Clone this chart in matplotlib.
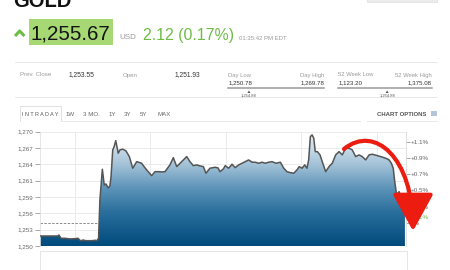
import numpy as np
import matplotlib.pyplot as plt
from matplotlib.colors import LinearSegmentedColormap
from matplotlib.patches import Rectangle, Polygon, FancyArrowPatch
from matplotlib.lines import Line2D
from matplotlib.path import Path

plt.rcParams['font.family'] = ['Liberation Sans', 'DejaVu Sans']

# ---- data (intraday gold price, hours counted from midnight of previous day)
hours = [18.13, 19.10, 19.15, 19.26, 19.47, 19.74, 20.00, 20.16, 20.30, 20.42,
         20.58, 20.90, 21.06, 21.18, 21.25, 21.32, 21.45, 21.55, 21.64, 21.76,
         21.85, 21.91, 22.00, 22.07, 22.16, 22.29, 22.38, 22.53, 22.70, 22.88,
         23.06, 23.27, 23.53, 23.66, 23.80, 24.06, 24.24, 24.41, 24.59, 24.77,
         25.03, 25.21, 25.39, 25.65, 25.92, 26.09, 26.27, 26.45, 26.62, 26.80,
         26.94, 27.15, 27.42, 27.58, 27.68, 27.86, 27.96, 28.14, 28.32, 28.49,
         28.67, 28.85, 29.02, 29.20, 29.38, 29.55, 29.73, 29.91, 30.08, 30.26,
         30.44, 30.65, 30.88, 31.06, 31.23, 31.41, 31.59, 31.76, 31.88, 32.03,
         32.17, 32.29, 32.38, 32.47, 32.56, 32.65, 32.73, 32.84, 32.98, 33.10,
         33.28, 33.46, 33.63, 33.81, 33.99, 34.16, 34.34, 34.52, 34.69, 34.87,
         35.05, 35.22, 35.40, 35.58, 35.75, 36.02, 36.20, 36.46, 36.64, 36.76,
         36.86, 36.94, 37.04, 37.17, 37.29, 37.39, 37.48]
prices = [1251.75, 1251.75, 1251.93, 1251.35, 1251.35, 1251.23, 1251.28, 1251.35, 1250.88, 1251.05,
          1250.93, 1250.93, 1251.00, 1250.96, 1251.40, 1258.06, 1263.43, 1260.68, 1260.86, 1260.16,
          1260.51, 1262.14, 1266.81, 1267.34, 1268.44, 1266.23, 1266.81, 1266.94, 1266.64, 1265.64,
          1263.61, 1264.76, 1264.48, 1263.89, 1263.31, 1262.31, 1263.01, 1263.01, 1262.96, 1263.01,
          1264.19, 1265.46, 1263.89, 1264.76, 1265.64, 1264.76, 1264.06, 1264.19, 1264.01, 1263.89,
          1262.73, 1263.61, 1263.78, 1263.66, 1263.01, 1263.49, 1264.06, 1263.61, 1264.31, 1263.71,
          1264.19, 1264.48, 1264.76, 1265.06, 1264.66, 1264.66, 1264.48, 1264.66, 1264.48, 1264.66,
          1264.76, 1264.48, 1264.66, 1263.61, 1263.01, 1262.84, 1262.73, 1263.31, 1263.89, 1263.61,
          1264.19, 1263.61, 1265.06, 1269.14, 1269.44, 1268.86, 1266.51, 1266.51, 1265.94, 1264.76,
          1263.01, 1263.89, 1264.48, 1265.94, 1266.51, 1265.94, 1267.11, 1267.11, 1266.81, 1265.64,
          1265.94, 1265.64, 1265.06, 1265.94, 1266.06, 1265.81, 1265.64, 1265.36, 1265.06, 1264.48,
          1263.61, 1261.26, 1258.93, 1259.51, 1258.35, 1257.18, 1255.67]

y_min, y_max = 1250, 1270
left_labels = ['1,250', '1,253', '1,256', '1,259', '1,261', '1,264', '1,267', '1,270']
right_levels = [1268.27, 1265.46, 1262.61, 1259.81, 1256.88, 1255.13, 1253.98]
right_labels = ['+1.1%', '+0.9%', '+0.7%', '+0.5%', '+0.2%', '+0.1%', '0%']
grid_hours = [20, 24, 28, 32, 36]
prev_close_line = 1253.98

last_price = '1,255.67'
change = '2.12 (0.17%)'
stamp = '01:35:42 PM EDT'
prev_close, open_price = '1,253.55', '1,251.93'
day_low, day_high, current = 1250.78, 1269.78, 1254.88
wk_low, wk_high = 1123.20, 1375.08
tabs = ['1W', '3 MO.', '1Y', '3Y', '5Y', 'MAX']
tab_x = [70, 91.5, 112.5, 128, 143.5, 164]

W, H = 450, 270
GREEN = '#6dbd45'


def fx(x):
    return x / W


def fy(y):
    return 1 - y / H


fig = plt.figure(figsize=(4.5, 2.7), dpi=100)


def hline(x0, x1, y, color='#e3e3e3', lw=0.6):
    fig.add_artist(Line2D([fx(x0), fx(x1)], [fy(y), fy(y)], color=color, lw=lw))


def box(x0, y0, x1, y1, **kw):
    fig.add_artist(Rectangle((fx(x0), fy(y1)), (x1 - x0) / W, (y1 - y0) / H, **kw))


def txt(x, y, s, **kw):
    fig.text(fx(x), fy(y), s, va='baseline', **kw)


# ---- header (the title is cut by the top edge, as in the page screenshot)
txt(13, 7, 'GOLD', fontsize=14.5, fontweight='bold', color='#111')
box(367, -3, 437, 1.5, facecolor='#ececec', edgecolor='#dddddd', lw=0.5)
fig.add_artist(Line2D([fx(15), fx(19.7), fx(24.4)], [fy(36), fy(31), fy(36)],
                      color=GREEN, lw=2.2, solid_capstyle='butt'))
box(29, 19.3, 113, 45.3, facecolor='#a6d874', edgecolor='none')
txt(31, 40, last_price, fontsize=14.8, color='#151515')
txt(119, 39.3, 'USD', fontsize=5.8, color='#9a9a9a')
txt(143, 40, change, fontsize=11.4, color=GREEN)
txt(239, 39.5, stamp, fontsize=4.3, color='#9a9a9a')

# ---- stats row
hline(15, 437, 61.5)
hline(15, 437, 97)
lab = dict(fontsize=4.4, color='#9a9a9a')
val = dict(fontsize=4.8, color='#333333')
txt(20, 76.5, 'Prev. Close', **lab)
txt(68.3, 76.5, prev_close, **val)
txt(122.7, 76.5, 'Open', **lab)
txt(175, 76.5, open_price, **val)

for x0, x1, lo, hi, nlo, nhi in [(228.3, 324, day_low, day_high, 'Day Low', 'Day High'),
                                 (338.3, 431.7, wk_low, wk_high, '52 Week Low', '52 Week High')]:
    txt(x0, 76.5, nlo, fontsize=4.2, color='#9a9a9a')
    txt(x1, 76.5, nhi, fontsize=4.2, color='#9a9a9a', ha='right')
    txt(x0, 84.3, f'{lo:,.2f}', fontsize=4.4, color='#333333')
    txt(x1, 84.3, f'{hi:,.2f}', fontsize=4.4, color='#333333', ha='right')
    hline(x0, x1, 88.3, color='#9a9a9a', lw=1.1)
    mx = x0 + (current - lo) / (hi - lo) * (x1 - x0)
    fig.add_artist(Polygon([(fx(mx - 1.5), fy(93)), (fx(mx + 1.5), fy(93)), (fx(mx), fy(90.5))],
                           closed=True, facecolor='#555', edgecolor='none'))
    txt(mx, 96.8, f'{current:,.2f}', fontsize=3.0, color='#555', ha='center')

# ---- tabs
tab_line = dict(color='#dddddd', lw=0.6)
fig.add_artist(Line2D([fx(20), fx(20), fx(60.5), fx(60.5)], [fy(121), fy(106.5), fy(106.5), fy(121)], **tab_line))
hline(60.5, 360, 121, color='#e6e6e6')
hline(367, 437, 121, color='#e6e6e6')
txt(40, 115.5, 'I N T R A D A Y', fontsize=3.9, color='#555', ha='center')
for s, x in zip(tabs, tab_x):
    txt(x, 115.5, s, fontsize=4.4, color='#666', ha='center')
txt(426, 115.5, 'CHART OPTIONS', fontsize=4.3, color='#555', ha='right', fontweight='bold')
box(431, 111, 437, 115.5, facecolor='#b3c5d8', edgecolor='none')

# ---- chart
ax = fig.add_axes([fx(39.5), fy(246), (405.5 - 39.5) / W, (246 - 131.7) / H])
x0, x1 = 18.12, 37.51

cmap = LinearSegmentedColormap.from_list('gold_fill', [
    (0.0, '#004a7c'), (0.3, '#2b709d'), (0.5, '#5c93b8'),
    (0.7, '#a0c0d6'), (0.9, '#d6e4ee'), (1.0, '#e8f0f5')])
ax.plot([x0, x1], [prev_close_line, prev_close_line], ls=(0, (2.5, 1.5)), color='#8a8a8a', lw=0.7, zorder=1)
im = ax.imshow(np.linspace(0, 1, 256).reshape(-1, 1), cmap=cmap, origin='lower',
               extent=[x0, x1, y_min, y_max], aspect='auto', zorder=2)
verts = [(hours[0], y_min)] + list(zip(hours, prices)) + [(hours[-1], y_min)]
area = Polygon(verts, closed=True, facecolor='none', edgecolor='none')
ax.add_patch(area)
im.set_clip_path(area)
ax.plot(hours, prices, color='#555555', lw=1.1, zorder=3)

ax.set_xlim(x0, x1)
ax.set_ylim(y_min, y_max)
ax.set_xticks(grid_hours)
ax.tick_params(axis='x', length=0, labelbottom=False)
ax.set_yticks(np.linspace(y_min, y_max, len(left_labels)))
ax.set_yticklabels(left_labels)
ax.tick_params(axis='y', length=3.6, width=0.6, color='#999', labelsize=4.5,
               labelcolor='#666', pad=1)
ax.grid(True, color='#e8e8e8', lw=0.6)
ax.set_axisbelow(True)
for side in ['top', 'bottom']:
    ax.spines[side].set_visible(False)
for side in ['left', 'right']:
    ax.spines[side].set_color('#e0e0e0')
    ax.spines[side].set_linewidth(0.6)

ax2 = ax.twinx()
ax2.set_ylim(y_min, y_max)
ax2.set_yticks(right_levels)
ax2.set_yticklabels(right_labels)
ax2.tick_params(axis='y', length=2.9, width=0.6, color='#999', labelsize=4.5,
                labelcolor='#666', pad=0.7)
ax2.get_yticklabels()[5].set_color(GREEN)
for side in ['top', 'bottom', 'left']:
    ax2.spines[side].set_visible(False)
ax2.spines['right'].set_color('#e0e0e0')
ax2.spines['right'].set_linewidth(0.6)

# navigator panel under the chart
box(39.5, 251, 406.5, 280, facecolor='none', edgecolor='#e0e0e0', lw=0.6)

# red arrow
arc = Path([(fx(344), fy(149)), (fx(375), fy(124)), (fx(413), fy(158)), (fx(413), fy(231))],
           [Path.MOVETO, Path.CURVE4, Path.CURVE4, Path.CURVE4])
fig.add_artist(FancyArrowPatch(path=arc, arrowstyle='-|>,head_length=1.0,head_width=0.55',
                               mutation_scale=23, lw=3.0, color='#ec1c10',
                               transform=fig.transFigure, zorder=10))

fig.savefig('out.png', dpi=100)
